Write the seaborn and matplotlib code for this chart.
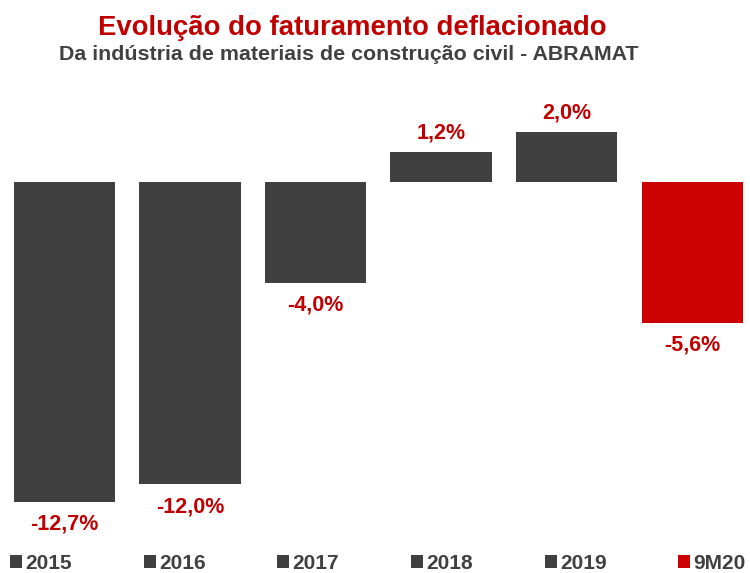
import numpy as np
import pandas as pd
import matplotlib
matplotlib.use("Agg")
import matplotlib.pyplot as plt
import seaborn as sns

# data
categories = ['2015', '2016', '2017', '2018', '2019', '9M20']
growth = [-12.7, -12.0, -4.0, 1.2, 2.0, -5.6]
value_labels = ['-12,7%', '-12,0%', '-4,0%', '1,2%', '2,0%', '-5,6%']

df = pd.DataFrame({'ano': categories, 'var': growth})

grey = '#404040'
red = '#CC0000'
text_red = '#C00000'
palette = {c: grey for c in categories}
palette['9M20'] = red

sns.set_theme(style='white')
plt.rcParams['font.family'] = ['Liberation Sans', 'DejaVu Sans']

fig = plt.figure(figsize=(7.5, 5.73), dpi=100)
ax = fig.add_axes([0, 0, 1, 1])

sns.barplot(data=df, x='ano', y='var', hue='ano', palette=palette,
            width=0.805, legend=False, saturation=1, linewidth=0, ax=ax)

ax.set_xlim(-0.514, 5.462)
ax.set_ylim(-15.52, 7.22)
ax.axis('off')

# value labels
for i, (v, lab) in enumerate(zip(growth, value_labels)):
    if v >= 0:
        ax.annotate(lab, (i, v), xytext=(0, 9.4), textcoords='offset points',
                    ha='center', va='baseline', fontsize=15.5,
                    fontweight='bold', color=text_red)
    else:
        ax.annotate(lab, (i, v), xytext=(0, -8.5), textcoords='offset points',
                    ha='center', va='top', fontsize=15.5,
                    fontweight='bold', color=text_red)

# legend along the bottom
leg = ax.legend(ax.patches[:len(categories)], categories, ncol=6,
                loc='lower left', bbox_to_anchor=(10 / 750, 0.0),
                bbox_transform=fig.transFigure, frameon=False,
                fontsize=15, handlelength=0.58, handleheight=0.58,
                handletextpad=0.15, columnspacing=3.45,
                borderpad=0, borderaxespad=0)
for t in leg.get_texts():
    t.set_fontweight('bold')
    t.set_color(grey)

fig.text(352 / 750, 1 - 35 / 573, 'Evolução do faturamento deflacionado',
         ha='center', va='baseline', fontsize=19.8, fontweight='bold',
         color=text_red)
fig.text(349 / 750, 1 - 60 / 573,
         'Da indústria de materiais de construção civil - ABRAMAT',
         ha='center', va='baseline', fontsize=15.4, fontweight='bold',
         color=grey)

fig.savefig('out.png', dpi=100)
